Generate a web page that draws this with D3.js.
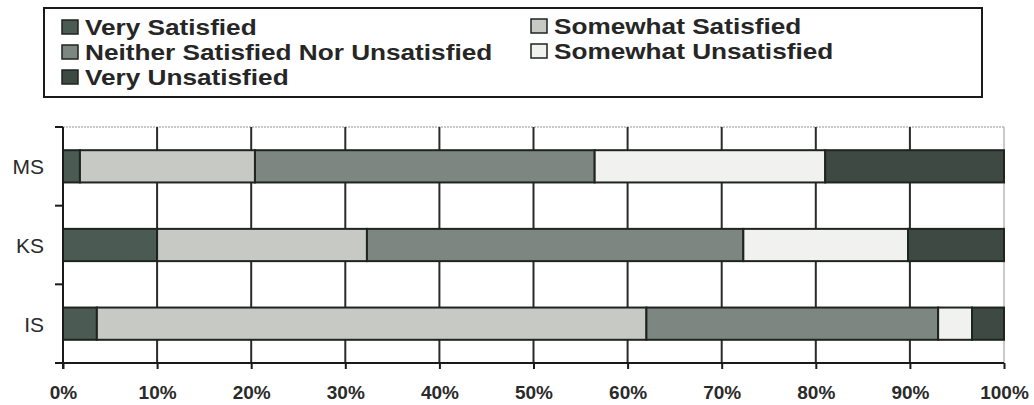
<!DOCTYPE html>
<html><head><meta charset="utf-8">
<script src="https://cdn.jsdelivr.net/npm/d3@7"></script>
<style>html,body{margin:0;padding:0;background:#fff;}svg{display:block;}</style>
</head><body>
<svg id="c" width="1034" height="405"></svg>
<script>
const categories = ["MS", "KS", "IS"];
const seriesNames = ["Very Satisfied", "Somewhat Satisfied", "Neither Satisfied Nor Unsatisfied", "Somewhat Unsatisfied", "Very Unsatisfied"];
const verySatisfied = [1.8, 10.0, 3.6];
const somewhatSatisfied = [18.6, 22.3, 58.4];
const neither = [36.1, 40.0, 31.0];
const somewhatUnsatisfied = [24.5, 17.5, 3.6];
const veryUnsatisfied = [19.0, 10.2, 3.4];
const xTicks = [0, 10, 20, 30, 40, 50, 60, 70, 80, 90, 100];
const colors = ["#4b5a53", "#c6c9c4", "#7d8680", "#f1f1ef", "#3e4944"];

const seriesValues = [verySatisfied, somewhatSatisfied, neither, somewhatUnsatisfied, veryUnsatisfied];
const rows = categories.map((c, i) => {
  const o = {cat: c};
  seriesNames.forEach((s, j) => o[s] = seriesValues[j][i]);
  return o;
});

const FONT = "Liberation Sans, Arial, sans-serif";
const svg = d3.select("#c");
const pL = 63, pR = 1004, pT = 127, pB = 363;
const x = d3.scaleLinear().domain([0, 100]).range([pL, pR]);
const y = d3.scaleBand().domain(categories).range([pT, pB]).paddingInner(0.59).paddingOuter(0.295);

// plot border (light)
svg.append("line").attr("x1", pL).attr("x2", pR).attr("y1", pT).attr("y2", pT)
  .attr("stroke", "#b8b8b8").attr("stroke-width", 1.5).attr("stroke-dasharray", "2,1");
svg.append("line").attr("x1", pR).attr("x2", pR).attr("y1", pT).attr("y2", pB)
  .attr("stroke", "#b8b8b8").attr("stroke-width", 1.5);

// vertical gridlines
svg.append("g").selectAll("line").data(xTicks.filter(t => t > 0 && t < 100)).join("line")
  .attr("x1", d => x(d)).attr("x2", d => x(d)).attr("y1", pT).attr("y2", pB)
  .attr("stroke", "#2a2a2a").attr("stroke-width", 2);

// bars
const stack = d3.stack().keys(seriesNames)(rows);
svg.append("g").selectAll("g").data(stack).join("g")
  .attr("fill", (d, i) => colors[i])
  .selectAll("rect").data(d => d).join("rect")
  .attr("x", d => x(d[0])).attr("width", d => x(d[1]) - x(d[0]))
  .attr("y", d => y(d.data.cat)).attr("height", y.bandwidth())
  .attr("stroke", "#1e2420").attr("stroke-width", 2);

// x axis
const xAxis = d3.axisBottom(x).tickValues(xTicks).tickFormat(d => d + "%").tickSize(6).tickPadding(17);
const gx = svg.append("g").attr("transform", `translate(0,${pB})`).call(xAxis);
gx.select(".domain").attr("stroke", "#1a1a1a").attr("stroke-width", 2).attr("d", `M${pL - 8},0H${pR}`);
gx.selectAll(".tick line").attr("stroke", "#1a1a1a").attr("stroke-width", 2);
gx.selectAll("text").attr("font-family", FONT).attr("font-size", 19)
  .attr("font-weight", "bold").attr("fill", "#2a2a2a");

// y axis line with ticks between bands
svg.append("line").attr("x1", pL).attr("x2", pL).attr("y1", pT).attr("y2", pB + 6)
  .attr("stroke", "#1a1a1a").attr("stroke-width", 2);
const sepTicks = [pT, (y("MS") + y.bandwidth() + y("KS")) / 2, (y("KS") + y.bandwidth() + y("IS")) / 2];
svg.append("g").selectAll("line").data(sepTicks).join("line")
  .attr("x1", pL - 8).attr("x2", pL).attr("y1", d => d).attr("y2", d => d)
  .attr("stroke", "#1a1a1a").attr("stroke-width", 2);
svg.append("g").selectAll("text").data(categories).join("text")
  .attr("x", 44).attr("y", d => y(d) + y.bandwidth() / 2 + 8)
  .attr("text-anchor", "end").attr("font-family", FONT)
  .attr("font-size", 21).attr("fill", "#2a2a2a").text(d => d);

// legend
svg.append("rect").attr("x", 44).attr("y", 8).attr("width", 938).attr("height", 89)
  .attr("fill", "#fff").attr("stroke", "#1a1a1a").attr("stroke-width", 2);
const legendPos = [[61, 35], [530, 34], [61, 60], [530, 59], [61, 85]];
const legendOrder = [0, 1, 2, 3, 4];
const lg = svg.append("g").selectAll("g").data(legendOrder).join("g")
  .attr("transform", d => `translate(${legendPos[d][0]},${legendPos[d][1]})`);
lg.append("rect").attr("x", 1).attr("y", -15).attr("width", 16).attr("height", 14).attr("fill", d => colors[d])
  .attr("stroke", "#1e2420").attr("stroke-width", 1.5);
lg.append("text").attr("transform", "translate(24,0) scale(1.19,1)").attr("font-family", FONT)
  .attr("font-size", 22).attr("font-weight", "bold").attr("fill", "#262626").text(d => seriesNames[d]);
</script>
</body></html>
